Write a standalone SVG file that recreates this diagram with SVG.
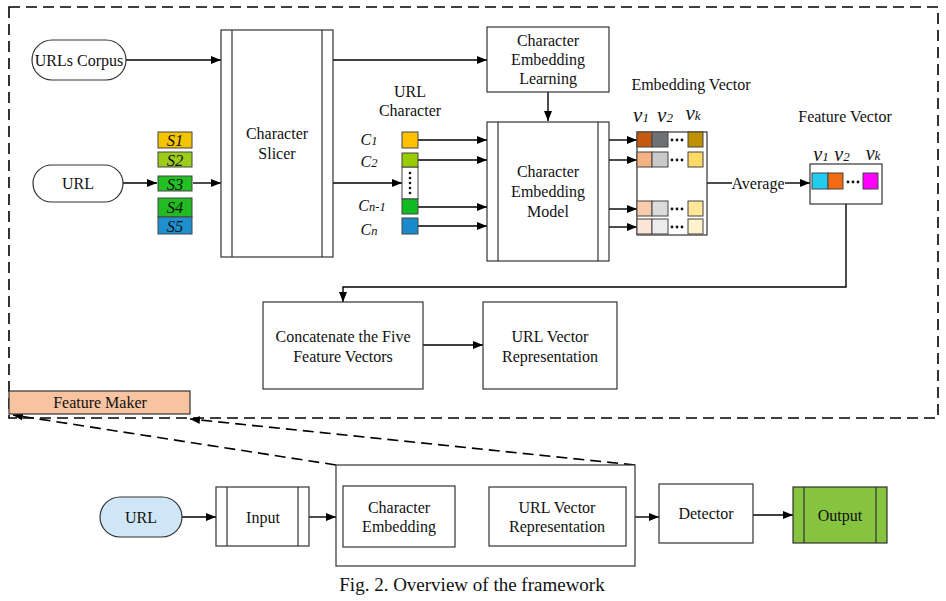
<svg xmlns="http://www.w3.org/2000/svg" width="946" height="601" viewBox="0 0 946 601">
<defs>
<marker id="ah" viewBox="0 0 10 10" refX="10" refY="5" markerWidth="10" markerHeight="10" markerUnits="userSpaceOnUse" orient="auto"><path d="M0,1 L10,5 L0,9 z" fill="#000"/></marker>
<style>
.t{font-family:"Liberation Serif","Times New Roman",serif;font-size:16px;fill:#111;text-anchor:middle;dominant-baseline:central}
.i{font-family:"Liberation Serif","Times New Roman",serif;font-style:italic;fill:#111;text-anchor:middle}
.b{fill:#fff;stroke:#333;stroke-width:1.2}
.l{fill:none;stroke:#333;stroke-width:1.2}
.c{stroke:#000;stroke-width:1.4;fill:none;marker-end:url(#ah)}
.cn{stroke:#000;stroke-width:1.4;fill:none}
.d{stroke:#000;stroke-width:1.6;fill:none;stroke-dasharray:11 6}
.cell{stroke:#444;stroke-width:1}
</style>
</defs>
<rect width="946" height="601" fill="#fff"/>

<!-- outer dashed frame -->
<rect x="9" y="7" width="929" height="411" class="d"/>

<g id="connectors">
<line x1="126" y1="60" x2="221" y2="60" class="c"/>
<line x1="123" y1="183" x2="157" y2="183" class="c"/>
<line x1="193" y1="183" x2="221" y2="183" class="c"/>
<line x1="333" y1="60" x2="487" y2="60" class="c"/>
<line x1="333" y1="183" x2="402" y2="183" class="c"/>
<line x1="548" y1="92" x2="548" y2="121" class="c"/>
<line x1="418" y1="140" x2="487" y2="140" class="c"/>
<line x1="418" y1="160" x2="487" y2="160" class="c"/>
<line x1="418" y1="207" x2="487" y2="207" class="c"/>
<line x1="418" y1="226" x2="487" y2="226" class="c"/>
<line x1="609" y1="140" x2="637" y2="140" class="c"/>
<line x1="609" y1="160" x2="637" y2="160" class="c"/>
<line x1="609" y1="209" x2="637" y2="209" class="c"/>
<line x1="609" y1="227" x2="637" y2="227" class="c"/>
<line x1="707" y1="183" x2="732" y2="183" class="cn"/>
<line x1="785" y1="183" x2="810" y2="183" class="c"/>
<polyline points="846,204 846,287 343,287 343,302" class="c"/>
<line x1="423" y1="345" x2="483" y2="345" class="c"/>
<line x1="182" y1="517" x2="216" y2="517" class="c"/>
<line x1="309" y1="517" x2="336" y2="517" class="c"/>
<line x1="635" y1="517" x2="659" y2="517" class="c"/>
<line x1="753" y1="515" x2="793" y2="515" class="c"/>
<line x1="336" y1="465" x2="13" y2="415" class="d" marker-end="url(#ah)"/>
<line x1="635" y1="465" x2="190" y2="419" class="d" marker-end="url(#ah)"/>
</g>

<g id="urls-corpus">
<rect x="32" y="40" width="94" height="40" rx="20" class="b"/>
<text x="79" y="60" class="t">URLs Corpus</text>
</g>

<g id="url-top">
<rect x="33" y="165" width="90" height="37" rx="18.5" class="b"/>
<text x="78" y="183.5" class="t">URL</text>
</g>

<g id="segments">
<rect x="158" y="132" width="34" height="16" fill="#F5C400" class="cell"/>
<rect x="158" y="152" width="34" height="15" fill="#9CCB19" class="cell"/>
<rect x="158" y="176" width="34" height="15" fill="#22C022" class="cell"/>
<rect x="158" y="198" width="34" height="19" fill="#22BB22" class="cell"/>
<rect x="158" y="217" width="34" height="17" fill="#1E90CF" class="cell"/>
<text x="175" y="146" class="i" font-size="16.5">S1</text>
<text x="175" y="166" class="i" font-size="16.5">S2</text>
<text x="175" y="190" class="i" font-size="16.5">S3</text>
<text x="175" y="213" class="i" font-size="16.5">S4</text>
<text x="175" y="232" class="i" font-size="16.5">S5</text>
</g>

<g id="character-slicer">
<rect x="221" y="30" width="112" height="227" class="b"/>
<line x1="232" y1="30" x2="232" y2="257" class="l"/>
<line x1="322" y1="30" x2="322" y2="257" class="l"/>
<text x="277" y="133" class="t">Character</text>
<text x="277" y="153" class="t">Slicer</text>
</g>

<g id="url-character">
<text x="410" y="91" class="t">URL</text>
<text x="410" y="110" class="t">Character</text>
<rect x="402" y="167" width="16" height="32" fill="#fff" class="cell"/>
<rect x="402" y="132" width="16" height="16" fill="#FFC000" class="cell"/>
<rect x="402" y="153" width="16" height="14" fill="#99CC00" class="cell"/>
<rect x="402" y="199" width="16" height="15" fill="#11BB22" class="cell"/>
<rect x="402" y="218" width="16" height="16" fill="#1A8ACC" class="cell"/>
<g fill="#111"><circle cx="410" cy="173" r="1.3"/><circle cx="410" cy="178" r="1.3"/><circle cx="410" cy="183" r="1.3"/><circle cx="410" cy="188" r="1.3"/><circle cx="410" cy="193" r="1.3"/></g>
<text x="369" y="145" class="i" font-size="16">C<tspan font-size="12.5">1</tspan></text>
<text x="369" y="167" class="i" font-size="16">C<tspan font-size="12.5">2</tspan></text>
<text x="372" y="211" class="i" font-size="16">C<tspan font-size="12.5">n-1</tspan></text>
<text x="369" y="235" class="i" font-size="16">C<tspan font-size="12.5">n</tspan></text>
</g>

<g id="char-embedding-learning">
<rect x="487" y="27" width="122" height="65" class="b"/>
<text x="548" y="40" class="t">Character</text>
<text x="548" y="59" class="t">Embedding</text>
<text x="548" y="78" class="t">Learning</text>
</g>

<g id="char-embedding-model">
<rect x="487" y="122" width="122" height="139" class="b"/>
<line x1="498" y1="122" x2="498" y2="261" class="l"/>
<line x1="598" y1="122" x2="598" y2="261" class="l"/>
<text x="548" y="171" class="t">Character</text>
<text x="548" y="191" class="t">Embedding</text>
<text x="548" y="211" class="t">Model</text>
</g>

<g id="embedding-vector">
<text x="691" y="84" class="t">Embedding Vector</text>
<text x="641" y="122" class="i" font-size="21">v<tspan font-size="13">1</tspan></text>
<text x="665" y="122" class="i" font-size="21">v<tspan font-size="13">2</tspan></text>
<text x="693" y="120" class="i" font-size="21">v<tspan font-size="13">k</tspan></text>
<rect x="637" y="132" width="70" height="103" class="b"/>
<rect x="637" y="132" width="15" height="15" fill="#C55A11" class="cell"/>
<rect x="652" y="132" width="16" height="15" fill="#6E7073" class="cell"/>
<rect x="688" y="132" width="15" height="15" fill="#BF9000" class="cell"/>
<rect x="637" y="152" width="15" height="15" fill="#F4B183" class="cell"/>
<rect x="652" y="152" width="16" height="15" fill="#C9C9C9" class="cell"/>
<rect x="688" y="152" width="15" height="15" fill="#FFD966" class="cell"/>
<rect x="637" y="201" width="15" height="15" fill="#F8CBAD" class="cell"/>
<rect x="652" y="201" width="16" height="15" fill="#DBDBDB" class="cell"/>
<rect x="688" y="201" width="15" height="15" fill="#FFE699" class="cell"/>
<rect x="637" y="219" width="15" height="15" fill="#FBE5D6" class="cell"/>
<rect x="652" y="219" width="16" height="15" fill="#EDEDED" class="cell"/>
<rect x="688" y="219" width="15" height="15" fill="#FFF2CC" class="cell"/>
<g fill="#111"><circle cx="672" cy="140" r="1.4"/><circle cx="677" cy="140" r="1.4"/><circle cx="682" cy="140" r="1.4"/>
<circle cx="672" cy="160" r="1.4"/><circle cx="677" cy="160" r="1.4"/><circle cx="682" cy="160" r="1.4"/>
<circle cx="672" cy="209" r="1.4"/><circle cx="677" cy="209" r="1.4"/><circle cx="682" cy="209" r="1.4"/>
<circle cx="672" cy="227" r="1.4"/><circle cx="677" cy="227" r="1.4"/><circle cx="682" cy="227" r="1.4"/></g>
</g>

<g id="average">
<text x="758" y="183" class="t">Average</text>
</g>

<g id="feature-vector">
<text x="845" y="116" class="t">Feature Vector</text>
<text x="821" y="161" class="i" font-size="20">v<tspan font-size="13">1</tspan></text>
<text x="842" y="161" class="i" font-size="20">v<tspan font-size="13">2</tspan></text>
<text x="873" y="160" class="i" font-size="20">v<tspan font-size="13">k</tspan></text>
<rect x="810" y="164" width="72" height="40" class="b"/>
<rect x="812" y="173" width="16" height="16" fill="#22CCEE" class="cell"/>
<rect x="828" y="173" width="15" height="16" fill="#F26A12" class="cell"/>
<rect x="863" y="173" width="15" height="16" fill="#FF00FF" class="cell"/>
<g fill="#111"><circle cx="848" cy="182" r="1.4"/><circle cx="853" cy="182" r="1.4"/><circle cx="858" cy="182" r="1.4"/></g>
</g>

<g id="concatenate">
<rect x="263" y="302" width="160" height="87" class="b"/>
<text x="343" y="336" class="t">Concatenate the Five</text>
<text x="343" y="356" class="t">Feature Vectors</text>
</g>

<g id="url-vector-rep-top">
<rect x="483" y="302" width="134" height="87" class="b"/>
<text x="550" y="336" class="t">URL Vector</text>
<text x="550" y="356" class="t">Representation</text>
</g>

<g id="feature-maker">
<rect x="9" y="391" width="181" height="23" fill="#F8C3A0" stroke="#333" stroke-width="1.2"/>
<text x="100" y="402.5" class="t">Feature Maker</text>
</g>

<g id="url-bottom">
<rect x="100" y="497" width="82" height="40" rx="20" fill="#CFE6F7" stroke="#333" stroke-width="1.2"/>
<text x="141" y="517" class="t">URL</text>
</g>

<g id="input">
<rect x="216" y="487" width="93" height="59" class="b"/>
<line x1="227" y1="487" x2="227" y2="546" class="l"/>
<line x1="298" y1="487" x2="298" y2="546" class="l"/>
<text x="263" y="517" class="t">Input</text>
</g>

<g id="feature-maker-box">
<rect x="336" y="465" width="299" height="101" class="b"/>
</g>

<g id="char-embedding-bottom">
<rect x="343" y="486" width="112" height="61" class="b"/>
<text x="399" y="507" class="t">Character</text>
<text x="399" y="526" class="t">Embedding</text>
</g>

<g id="url-vector-rep-bottom">
<rect x="489" y="487" width="137" height="59" class="b"/>
<text x="557" y="507" class="t">URL Vector</text>
<text x="557" y="526" class="t">Representation</text>
</g>

<g id="detector">
<rect x="659" y="484" width="94" height="59" class="b"/>
<text x="706" y="513" class="t">Detector</text>
</g>

<g id="output">
<rect x="793" y="487" width="94" height="56" fill="#86C440" stroke="#333" stroke-width="1.2"/>
<line x1="804" y1="487" x2="804" y2="543" class="l"/>
<line x1="876" y1="487" x2="876" y2="543" class="l"/>
<text x="840" y="515" class="t">Output</text>
</g>

<text x="472" y="584" class="t" style="font-size:19px">Fig. 2. Overview of the framework</text>
</svg>
